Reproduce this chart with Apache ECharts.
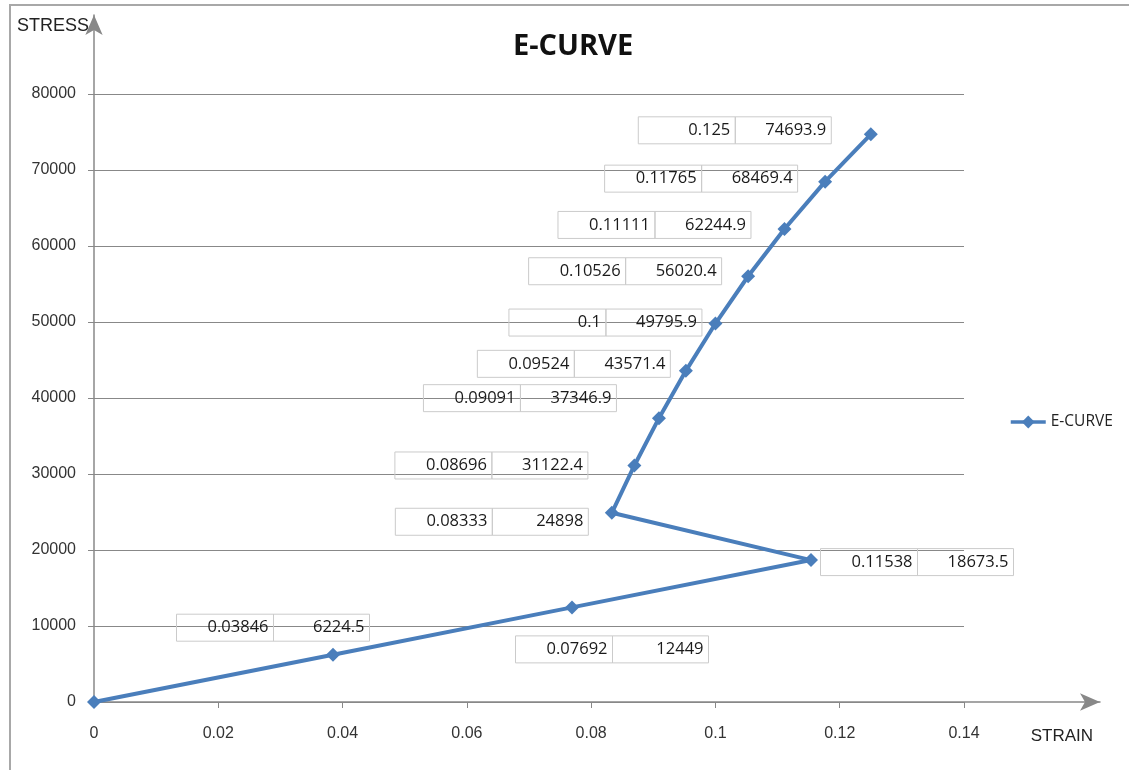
<!DOCTYPE html>
<html>
<head>
<meta charset="utf-8">
<title>E-CURVE</title>
<script src="https://cdn.jsdelivr.net/npm/echarts@6/dist/echarts.min.js"></script>
<style>
  html, body { margin: 0; padding: 0; background: #fff; }
  #chart { width: 1129px; height: 770px; }
</style>
</head>
<body>
<div id="chart"></div>
<script>
// Stress–strain points of the E-curve
const strain = [0, 0.03846, 0.07692, 0.11538, 0.08333, 0.08696, 0.09091, 0.09524, 0.1, 0.10526, 0.11111, 0.11765, 0.125];
const stress = [0, 6224.5, 12449, 18673.5, 24898, 31122.4, 37346.9, 43571.4, 49795.9, 56020.4, 62244.9, 68469.4, 74693.9];
const xTicks = [0, 0.02, 0.04, 0.06, 0.08, 0.1, 0.12, 0.14];
const yTicks = [0, 10000, 20000, 30000, 40000, 50000, 60000, 70000, 80000];

// Where each value box sits relative to its point (null = no box)
const labelOffsets = [null, [-60, -27], [40, 42], [106, 2], [-120, 9], [-143, 0], [-139, -20],
  [-112, -7], [-110, -1], [-123, -5], [-130, -4], [-124, -3], [-136, -4]];

const BLUE = '#4A7EBB';
const AXIS = '#888888';
const BOX = '#cbcbcb';
const LABEL_FONT = '"Open Sans", "Noto Sans", sans-serif';
const AXIS_FONT = '"Liberation Sans", Arial, sans-serif';

const points = strain.map((x, i) => {
  const off = labelOffsets[i];
  const item = { value: [x, stress[i]] };
  item.label = off ? { show: true, offset: off } : { show: false };
  return item;
});

const cell = {
  height: 27, lineHeight: 27, padding: [0, 5, 0, 5], align: 'right',
  borderColor: BOX, borderWidth: 1,
  fontFamily: LABEL_FONT, fontSize: 16.5, color: '#1a1a1a'
};

const chart = echarts.init(document.getElementById('chart'), null, { renderer: 'canvas' });
chart.setOption({
  backgroundColor: '#ffffff',
  animation: false,
  title: {
    text: 'E-CURVE',
    left: 508,
    top: 27,
    textStyle: { fontFamily: LABEL_FONT, fontWeight: 'bold', fontSize: 29, color: '#111' }
  },
  legend: {
    left: 1004,
    top: 409,
    itemWidth: 35,
    itemHeight: 16,
    itemGap: 5,
    data: ['E-CURVE'],
    lineStyle: { width: 3.5 },
    textStyle: { fontFamily: LABEL_FONT, fontSize: 15.5, color: '#222' }
  },
  graphic: [{
    type: 'rect',
    shape: { x: 10, y: 5, width: 1200, height: 800 },
    style: { fill: 'none', stroke: '#a8a8a8', lineWidth: 2 },
    silent: true,
    z: -10
  }],
  grid: [
    { left: 94, top: 94, width: 870, height: 608 },
    { left: 94, top: 15, width: 1006, height: 687 }
  ],
  xAxis: [{
    gridIndex: 0,
    type: 'value',
    min: 0,
    max: 0.14,
    interval: 0.02,
    axisLine: { show: false },
    axisTick: { show: true, length: 6, lineStyle: { color: AXIS } },
    splitLine: { show: false },
    axisLabel: {
      margin: 24,
      fontFamily: AXIS_FONT,
      fontSize: 16,
      color: '#333',
      customValues: xTicks,
      formatter: v => String(v)
    }
  }, {
    gridIndex: 1,
    type: 'value',
    min: 0,
    max: 1,
    name: 'STRAIN',
    nameLocation: 'end',
    nameGap: -7,
    nameTextStyle: {
      fontFamily: AXIS_FONT, fontSize: 17, color: '#222',
      align: 'right', verticalAlign: 'top', padding: [26, 0, 0, 0]
    },
    axisLine: {
      show: true,
      lineStyle: { color: AXIS, width: 1.5 },
      symbol: ['none', 'arrow'],
      symbolSize: [13, 20]
    },
    axisTick: { show: false },
    axisLabel: { show: false },
    splitLine: { show: false }
  }],
  yAxis: [{
    gridIndex: 0,
    type: 'value',
    min: 0,
    max: 80000,
    interval: 10000,
    axisLine: { show: false },
    axisTick: { show: true, length: 6, lineStyle: { color: AXIS } },
    splitLine: { show: true, lineStyle: { color: AXIS, width: 1 } },
    axisLabel: {
      margin: 18,
      fontFamily: AXIS_FONT,
      fontSize: 16,
      color: '#333',
      customValues: yTicks,
      formatter: v => String(v)
    }
  }, {
    gridIndex: 1,
    type: 'value',
    min: 0,
    max: 1,
    name: 'STRESS',
    nameLocation: 'end',
    nameGap: -11,
    nameTextStyle: {
      fontFamily: AXIS_FONT, fontSize: 18, color: '#222',
      align: 'right', verticalAlign: 'middle', padding: [0, 5, 0, 0]
    },
    axisLine: {
      show: true,
      lineStyle: { color: AXIS, width: 1.5 },
      symbol: ['none', 'arrow'],
      symbolSize: [13, 20]
    },
    axisTick: { show: false },
    axisLabel: { show: false },
    splitLine: { show: false }
  }],
  series: [{
    name: 'E-CURVE',
    type: 'line',
    xAxisIndex: 0,
    yAxisIndex: 0,
    data: points,
    color: BLUE,
    lineStyle: { color: BLUE, width: 4 },
    itemStyle: { color: BLUE },
    symbol: 'diamond',
    symbolSize: 14,
    z: 5,
    label: {
      position: 'inside',
      padding: 0,
      backgroundColor: 'transparent',
      formatter: p => '{a|' + p.value[0] + '}{b|' + p.value[1] + '}',
      rich: {
        a: Object.assign({ width: 87 }, cell),
        b: Object.assign({ width: 86 }, cell)
      }
    }
  }]
});
</script>
</body>
</html>
